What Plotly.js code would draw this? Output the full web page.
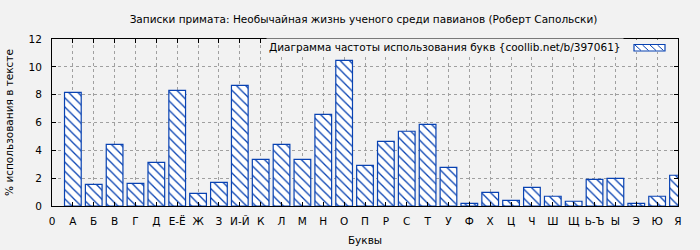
<!DOCTYPE html>
<html>
<head>
<meta charset="utf-8">
<script src="https://cdn.plot.ly/plotly-3.0.1.min.js"></script>
<style>html,body{margin:0;padding:0;background:#f2f2f2;}#chart{width:700px;height:250px;}</style>
</head>
<body>
<div id="chart"></div>
<script>
var tickLabels = ['0','А','Б','В','Г','Д','Е-Ё','Ж','З','И-Й','К','Л','М','Н','О','П','Р','С','Т','У','Ф','Х','Ц','Ч','Ш','Щ','Ь-Ъ','Ы','Э','Ю','Я'];
var letters = ['А','Б','В','Г','Д','Е-Ё','Ж','З','И-Й','К','Л','М','Н','О','П','Р','С','Т','У','Ф','Х','Ц','Ч','Ш','Щ','Ь-Ъ','Ы','Э','Ю','Я'];
var percents = [8.17,1.56,4.43,1.63,3.14,8.31,0.91,1.70,8.67,3.35,4.43,3.35,6.59,10.47,2.92,4.65,5.37,5.87,2.78,0.19,0.98,0.41,1.34,0.70,0.34,1.92,1.99,0.19,0.70,2.21];
var yTicks = [0,2,4,6,8,10,12];
var seriesName = 'Диаграмма частоты использования букв {coollib.net/b/397061}';

var positions = letters.map(function(l){ return tickLabels.indexOf(l); });
var tickPositions = tickLabels.map(function(l, i){ return i; });

var font = {family: 'DejaVu Sans, sans-serif', size: 10.5, color: '#000'};
var blue = '#0842b2';

// plot area in pixels
var M = {l: 52, r: 22, t: 39, b: 44};
var PW = 700 - M.l - M.r, PH = 250 - M.t - M.b;
function px(x){ return (x - M.l) / PW; }
function py(y){ return (250 - M.b - y) / PH; }

// legend key (decoration): opaque backing, box with hatch
var keyShapes = [{
  type: 'rect', xref: 'paper', yref: 'paper',
  x0: px(628), x1: px(670), y0: py(52), y1: py(39.5),
  line: {width: 0}, fillcolor: '#f2f2f2'
}, {
  type: 'rect', xref: 'paper', yref: 'paper',
  x0: px(634), x1: px(665), y0: py(51), y1: py(44.5),
  line: {color: blue, width: 1.2}, fillcolor: '#ffffff'
}];
[634, 641.5, 649, 656.5].forEach(function(s){
  keyShapes.push({type: 'line', xref: 'paper', yref: 'paper',
    x0: px(s + 1), y0: py(45), x1: px(Math.min(s + 7, 664.5)), y1: py(50.5),
    line: {color: blue, width: 1}});
});

var trace = {
  type: 'bar',
  x: positions,
  y: percents,
  hovertext: letters,
  name: seriesName,
  showlegend: false,
  hoverinfo: 'text+y',
  marker: {
    color: '#ffffff',
    line: {color: blue, width: 1.2},
    pattern: {shape: '\\', fgcolor: blue, bgcolor: '#ffffff', size: 6.5, solidity: 0.2}
  }
};

var layout = {
  width: 700, height: 250,
  paper_bgcolor: '#f2f2f2',
  plot_bgcolor: '#f2f2f2',
  font: font,
  margin: M,
  bargap: 0.2,
  title: {text: 'Записки примата: Необычайная жизнь ученого среди павианов (Роберт Сапольски)', font: font, x: 0.4976, xanchor: 'center', y: 0.924, yanchor: 'middle', xref: 'paper'},
  showlegend: false,
  shapes: keyShapes,
  annotations: [{
    text: seriesName, xref: 'paper', yref: 'paper', x: px(624), y: py(47),
    xanchor: 'right', yanchor: 'middle', showarrow: false, font: font,
    bgcolor: '#f2f2f2', borderpad: 2
  }],
  xaxis: {
    range: [0, 30],
    tickmode: 'array',
    tickvals: tickPositions,
    ticktext: tickLabels,
    ticks: 'inside', ticklen: 4, tickcolor: '#000',
    ticklabelstandoff: 5,
    showline: true, linecolor: '#000', linewidth: 1, mirror: 'ticks',
    showgrid: true, gridcolor: '#a0a0a0', griddash: 'dot', gridwidth: 1,
    zeroline: false,
    tickfont: font,
    title: {text: 'Буквы', font: font, standoff: 11}
  },
  yaxis: {
    range: [0, 12],
    tickmode: 'array',
    tickvals: yTicks,
    ticks: 'inside', ticklen: 4, tickcolor: '#000',
    ticklabelstandoff: 7,
    showline: true, linecolor: '#000', linewidth: 1, mirror: 'ticks',
    showgrid: true, gridcolor: '#a0a0a0', griddash: 'dot', gridwidth: 1,
    zeroline: false,
    tickfont: font,
    title: {text: '% использования в тексте', font: font, standoff: 12}
  }
};

Plotly.newPlot('chart', [trace], layout, {displayModeBar: false, staticPlot: true});
</script>
</body>
</html>
